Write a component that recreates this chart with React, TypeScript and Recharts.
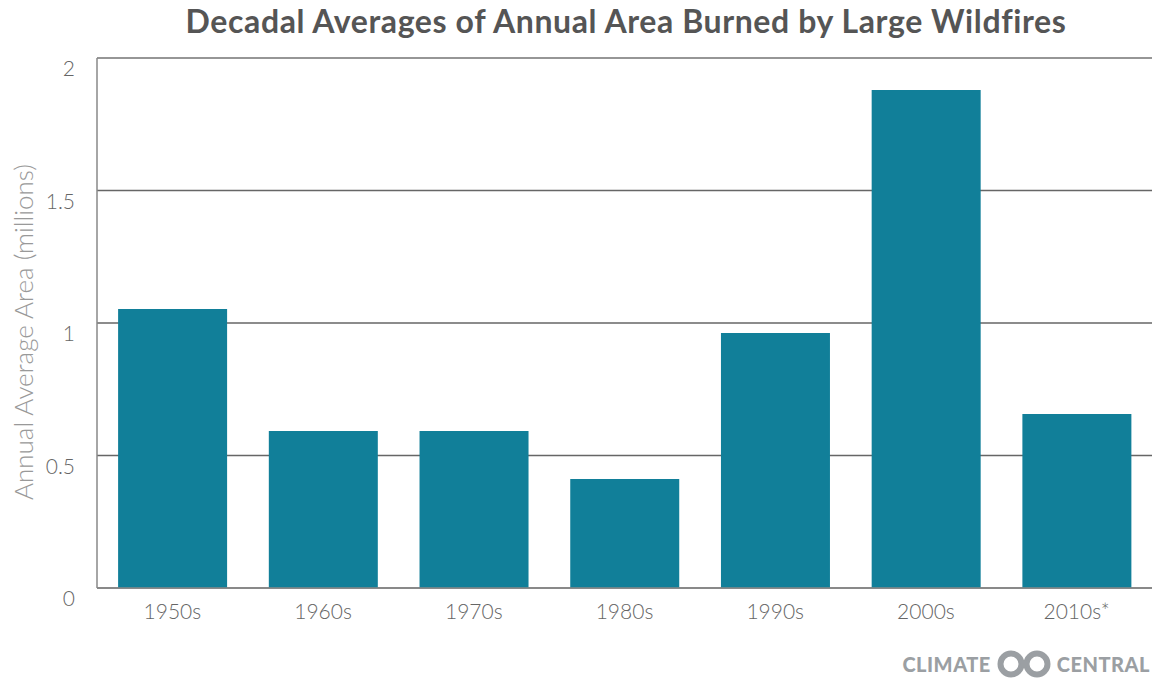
import React from "react";
import { BarChart, Bar, XAxis, YAxis, CartesianGrid, ReferenceLine } from "recharts";

const decades = ["1950s", "1960s", "1970s", "1980s", "1990s", "2000s", "2010s*"];
const areaMillions = [1.053, 0.592, 0.592, 0.411, 0.962, 1.879, 0.657];
const yTicks = [0, 0.5, 1, 1.5, 2];

const data = decades.map((d, i) => ({ decade: d, area: areaMillions[i] }));

const FONT = "Lato, 'Open Sans', sans-serif";

const YTick = (props: any) => {
  const { x, y, payload } = props;
  return (
    <text x={x} y={y} dy={18} textAnchor="end" fill="#666" fontFamily={FONT} fontWeight={300} fontSize={21}>
      {payload.value}
    </text>
  );
};

const XTick = (props: any) => {
  const { x, y, payload } = props;
  return (
    <text x={x} y={y} dy={23} textAnchor="middle" fill="#666" fontFamily={FONT} fontWeight={300} fontSize={21}>
      {payload.value}
    </text>
  );
};

export default function App() {
  return (
    <div style={{ position: "absolute", left: 0, top: 0, width: 1152, height: 679, background: "#fff", fontFamily: FONT }}>
      <div
        style={{
          position: "absolute",
          left: 0,
          top: 1,
          width: 1252,
          textAlign: "center",
          fontSize: 32,
          fontWeight: 700,
          color: "#555",
          fontFamily: FONT,
          letterSpacing: 0.6,
        }}
      >
        Decadal Averages of Annual Area Burned by Large Wildfires
      </div>
      <div
        style={{
          position: "absolute",
          left: 23,
          top: 332,
          transform: "translate(-50%, -50%) rotate(-90deg)",
          whiteSpace: "nowrap",
          fontSize: 26,
          fontWeight: 300,
          color: "#999",
          fontFamily: FONT,
        }}
      >
        Annual Average Area (millions)
      </div>
      <BarChart
        width={1152}
        height={679}
        data={data}
        margin={{ top: 58, right: 0, bottom: 61, left: 0 }}
        barCategoryGap="14%"
      >
        <CartesianGrid vertical={false} stroke="#666" strokeWidth={1.5} />
        <ReferenceLine y={2} stroke="#9a9a9a" strokeWidth={1.5} />
        <XAxis
          dataKey="decade"
          height={30}
          tickLine={false}
          axisLine={{ stroke: "#888", strokeWidth: 1.5 }}
          tick={<XTick />}
          interval={0}
        />
        <YAxis
          width={97}
          domain={[0, 2]}
          ticks={yTicks}
          tickLine={false}
          axisLine={{ stroke: "#888", strokeWidth: 1.5 }}
          tick={<YTick />}
          tickMargin={16}
        />
        <Bar dataKey="area" fill="#117f99" isAnimationActive={false} />
      </BarChart>
      <div
        style={{
          position: "absolute",
          right: 2,
          top: 650,
          display: "flex",
          alignItems: "center",
          color: "#9b9fa3",
          fontFamily: FONT,
          fontWeight: 900,
          fontSize: 20,
          letterSpacing: 0.5,
          whiteSpace: "nowrap",
        }}
      >
        <span>CLIMATE</span>
        <svg width={58} height={28} viewBox="0 0 58 28" style={{ margin: "0 4px" }}>
          <circle cx={16} cy={14} r={10.5} fill="none" stroke="#9b9fa3" strokeWidth={6} />
          <circle cx={42} cy={14} r={10.5} fill="none" stroke="#9b9fa3" strokeWidth={6} />
          <circle cx={29} cy={14} r={4} fill="#9b9fa3" />
        </svg>
        <span>CENTRAL</span>
      </div>
    </div>
  );
}
